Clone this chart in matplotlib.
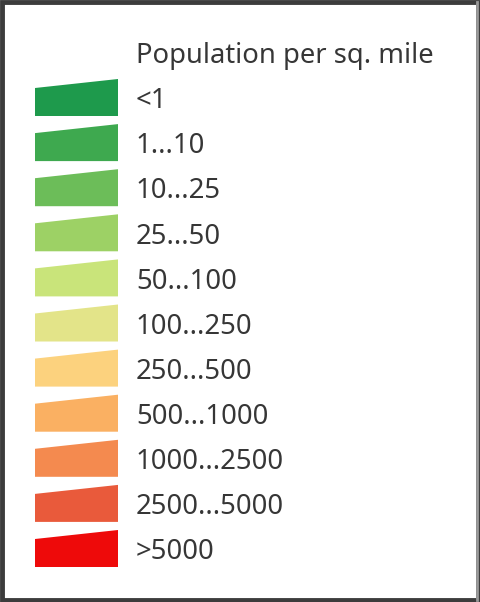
import matplotlib
matplotlib.use('Agg')
import matplotlib.pyplot as plt
from matplotlib.patches import Polygon, Rectangle

plt.rcParams['font.family'] = ['Noto Sans', 'DejaVu Sans']

# Legende-klassen en kleuren
titel = "Population per sq. mile"
klassen = ["<1", "1...10", "10...25", "25...50", "50...100", "100...250",
           "250...500", "500...1000", "1000...2500", "2500...5000", ">5000"]
kleuren = ["#1e9a4c", "#3ea94f", "#6cbd59", "#9dd165", "#c9e47a", "#e3e489",
           "#fcd27e", "#fab062", "#f48a4f", "#e95a3b", "#ee0a0a"]

W, H = 481, 602
fig = plt.figure(figsize=(W / 100, H / 100), dpi=100)
ax = fig.add_axes([0, 0, 1, 1])
ax.set_xlim(0, W)
ax.set_ylim(H, 0)
ax.axis('off')

# Kader
ax.add_patch(Rectangle((2.5, 2), W - 5, H - 4.5, fill=False, edgecolor='#3c3c3c', lw=3.5))
ax.plot([477.5, 477.5], [2, H - 2], color='#9a9a9a', lw=2)

tekstkleur = '#363636'
ax.text(136, 63, titel, fontsize=19.7, color=tekstkleur, va='baseline', ha='left')

x0, x1 = 35, 118
onder0 = 116
stap = 45.1
for i, (lab, kl) in enumerate(zip(klassen, kleuren)):
    onder = onder0 + stap * i
    pts = [(x0, onder), (x0, onder - 28), (x1, onder - 37), (x1, onder)]
    ax.add_patch(Polygon(pts, closed=True, facecolor=kl, edgecolor='none'))
    ax.text(136, onder - 7.8, lab, fontsize=19.8, color=tekstkleur, va='baseline', ha='left')

fig.savefig('out.png', dpi=100, facecolor='white')
